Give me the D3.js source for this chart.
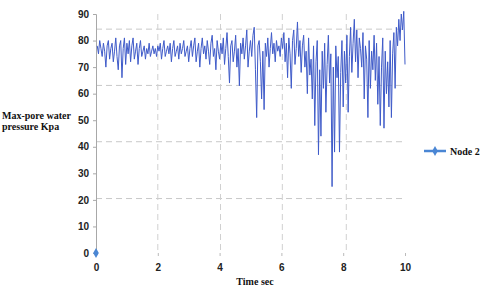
<!DOCTYPE html>
<html><head><meta charset="utf-8">
<script src="https://cdn.jsdelivr.net/npm/d3@7"></script>
<style>body{margin:0;background:#fff}svg{display:block}</style>
</head><body>
<script>
const dt = 0.04;
const node2 = [
78,75,80,77,74,79,76,70,78,80,73,77,79,72,76,81,74,69,78,80,66,77,81,71,79,
75,80,72,78,81,73,76,79,71,77,80,74,76,78,73,77,75,79,74,76,78,75,77,74,78,
76,79,73,77,80,74,76,78,75,79,72,77,80,74,76,78,73,79,75,77,80,74,76,78,72,
77,80,74,78,81,72,76,79,70,77,81,75,78,73,80,76,71,79,82,74,77,69,80,76,73,
79,75,81,71,77,83,74,64,78,80,72,76,82,70,77,63,79,75,81,73,78,84,70,76,80,
74,82,85,69,51,78,80,72,58,76,54,79,74,81,70,77,83,75,79,72,80,76,78,74,81,
77,83,72,79,66,81,75,62,80,84,71,77,87,74,80,68,78,82,70,76,60,81,67,73,58,
78,48,72,80,37,69,44,76,62,79,53,71,82,64,75,25,70,38,78,66,74,38,68,80,55,
76,64,82,53,74,85,68,79,88,72,84,66,81,77,70,83,58,78,73,51,80,62,76,69,82,
65,79,56,74,48,70,81,47,76,60,72,55,80,51,75,83,62,85,78,88,80,90,84,91,71
];
const originPoint = [0, 0];
const yTicks = [0,10,20,30,40,50,60,70,80,90];
const xTicks = [0,2,4,6,8,10];
const hGrid = [84.3, 63.1, 41.9, 20.5];
const vGrid = [2, 4.03, 6.03, 8.1];
const seriesName = "Node 2";

const W = 480, H = 291;
const svg = d3.select("body").append("svg").attr("width", W).attr("height", H);
const x = d3.scaleLinear().domain([0, 10]).range([96, 405]);
const y = d3.scaleLinear().domain([0, 90]).range([253, 14]);

// grid
svg.append("g").selectAll("line").data(hGrid).join("line")
  .attr("x1", x(0)).attr("x2", x(10)).attr("y1", d => y(d)).attr("y2", d => y(d))
  .attr("stroke", "#c8c8c8").attr("stroke-width", 1).attr("stroke-dasharray", "6,4");
svg.append("g").selectAll("line").data(vGrid).join("line")
  .attr("y1", y(90)).attr("y2", y(0)).attr("x1", d => x(d)).attr("x2", d => x(d))
  .attr("stroke", "#d0d0d0").attr("stroke-width", 1).attr("stroke-dasharray", "6,4");

// y axis
const ya = svg.append("g").attr("transform", `translate(${x(0)},0)`)
  .call(d3.axisLeft(y).tickValues(yTicks).tickSize(3).tickPadding(4));
ya.select(".domain").attr("stroke", "#a8a8a8");
ya.selectAll(".tick line").attr("stroke", "#a8a8a8");
ya.selectAll("text").attr("font-family", "Liberation Sans, Arial, sans-serif")
  .attr("font-weight", "bold").attr("font-size", 10).attr("fill", "#222");

// x axis
const xa = svg.append("g").attr("transform", `translate(0,${y(0)})`)
  .call(d3.axisBottom(x).tickValues(xTicks).tickSize(3).tickPadding(8));
xa.select(".domain").attr("stroke", "none");
xa.selectAll(".tick line").attr("stroke", "#bbb");
xa.selectAll("text").attr("font-family", "Liberation Sans, Arial, sans-serif")
  .attr("font-weight", "bold").attr("font-size", 10).attr("fill", "#222");

// line
const pts = node2.map((v, i) => [(i + 1) * dt, v]);
svg.append("path").datum(pts)
  .attr("fill", "none").attr("stroke", "#3f5bc9").attr("stroke-width", 1)
  .attr("stroke-linejoin", "round")
  .attr("d", d3.line().x(d => x(d[0])).y(d => y(d[1])));

// origin marker
const diamond = d3.symbol().type(d3.symbolDiamond).size(28);
svg.append("path").attr("d", diamond())
  .attr("transform", `translate(${x(originPoint[0])},${y(originPoint[1])})`)
  .attr("fill", "#4a86d4");

// labels
const serif = "Liberation Serif, Times New Roman, serif";
const yl = svg.append("text").attr("font-family", serif).attr("font-weight", "bold")
  .attr("font-size", 10).attr("fill", "#111");
yl.append("tspan").attr("x", 2).attr("y", 119).text("Max-pore water");
yl.append("tspan").attr("x", 2).attr("y", 130).text("pressure Kpa");
svg.append("text").attr("x", 255).attr("y", 285).attr("text-anchor", "middle")
  .attr("font-family", serif).attr("font-weight", "bold").attr("font-size", 10)
  .attr("fill", "#111").text("Time sec");

// legend
svg.append("line").attr("x1", 424).attr("x2", 446).attr("y1", 151).attr("y2", 151)
  .attr("stroke", "#4a86d4").attr("stroke-width", 2.5);
svg.append("path").attr("d", diamond()).attr("transform", "translate(435,151)")
  .attr("fill", "#4a86d4");
svg.append("text").attr("x", 450).attr("y", 154.5)
  .attr("font-family", serif).attr("font-weight", "bold").attr("font-size", 10)
  .attr("fill", "#111").text(seriesName);
</script>
</body></html>
